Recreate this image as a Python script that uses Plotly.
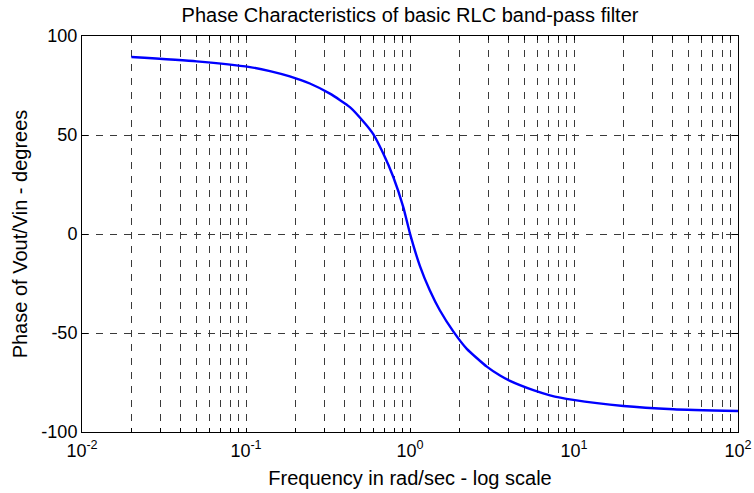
import plotly.graph_objects as go

# Data
freq = [0.02, 0.05, 0.1057, 0.140, 0.185, 0.245, 0.325, 0.430, 0.532, 0.597, 0.687, 0.791, 0.910,
        1.0, 1.15, 1.32, 1.52, 1.84, 2.22, 2.94, 3.54, 4.07, 5.65, 7.14, 9.9, 20.0, 40.4, 100.0]
phase = [89.4, 87.2, 84.3, 82.3, 79.6, 76.0, 70.9, 64.1, 55.8, 50.4, 40.6, 28.8, 13.6,
         0.2, -16.2, -28.4, -38.5, -49.3, -58.0, -67.0, -71.5, -74.2, -78.9, -81.5, -83.8, -86.9, -88.5, -89.4]

x_major = [0.01, 0.1, 1, 10, 100]
x_major_labels = ["10<sup>-2</sup>", "10<sup>-1</sup>", "10<sup>0</sup>", "10<sup>1</sup>", "10<sup>2</sup>"]
y_ticks = [-100, -50, 0, 50, 100]
y_labels = ["-100", "-50", "0", "50", "100"]

# all log-grid positions (major + minor)
grid_vals = []
grid_text = []
for d in [0.01, 0.1, 1, 10]:
    for k in range(1, 10):
        v = k * d
        grid_vals.append(v)
        grid_text.append(x_major_labels[x_major.index(d)] if k == 1 else "")
grid_vals.append(100)
grid_text.append(x_major_labels[-1])

fig = go.Figure()
fig.add_trace(go.Scatter(x=freq, y=phase, mode="lines",
                         line=dict(color="#0000ff", width=2.4, shape="spline", smoothing=0.5),
                         showlegend=False))

font = "Liberation Sans, Arial, Helvetica, sans-serif"
fig.update_layout(
    width=754, height=493,
    paper_bgcolor="white", plot_bgcolor="white",
    margin=dict(l=82, r=16, t=36, b=61, autoexpand=False),
    title=dict(text="Phase Characteristics of basic RLC band-pass filter", x=0.5, xref="paper",
               xanchor="center", y=0.984, yref="container", yanchor="top",
               font=dict(family=font, size=20, color="black")),
    font=dict(family=font, size=18, color="black"),
)
fig.update_xaxes(
    type="log", range=[-2, 2],
    tickmode="array", tickvals=grid_vals, ticktext=grid_text,
    ticks="inside", ticklen=4, tickcolor="black",
    showgrid=True, gridcolor="#3a3a3a", gridwidth=1, griddash="7px,7px",
    showline=True, linecolor="black", linewidth=1, mirror="ticks",
    zeroline=False, automargin=False, ticklabelstandoff=2,
    tickfont=dict(family=font, size=18, color="black"),
    title=dict(text="Frequency in rad/sec - log scale", font=dict(family=font, size=20, color="black"), standoff=11),
)
fig.update_yaxes(
    range=[-100, 100],
    tickmode="array", tickvals=y_ticks, ticktext=y_labels,
    ticks="inside", ticklen=6, tickcolor="black",
    showgrid=True, gridcolor="#3a3a3a", gridwidth=1, griddash="7px,7px",
    showline=True, linecolor="black", linewidth=1, mirror="ticks",
    zeroline=False, automargin=False,
    tickfont=dict(family=font, size=18, color="black"),
    title=dict(text="Phase of Vout/Vin - degrees", font=dict(family=font, size=20, color="black"), standoff=8),
)
fig.write_html("out.html", config={"displayModeBar": False},
               post_script="document.body.style.margin='0';document.body.style.padding='0';")
